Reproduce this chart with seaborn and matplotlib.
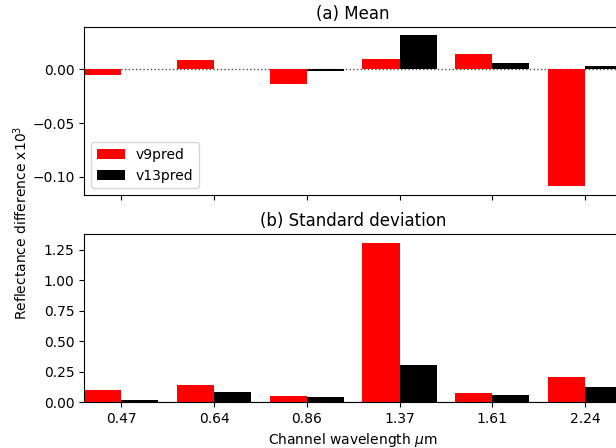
import matplotlib
matplotlib.use("Agg")
import matplotlib.pyplot as plt
import seaborn as sns
import pandas as pd

channels = ["0.47", "0.64", "0.86", "1.37", "1.61", "2.24"]
models = ["v9pred", "v13pred"]
mean_v9 = [-0.0055, 0.0083, -0.0135, 0.0092, 0.0144, -0.1089]
mean_v13 = [0.0005, 0.0005, -0.0012, 0.0322, 0.0055, 0.0034]
std_v9 = [0.096, 0.136, 0.046, 1.307, 0.071, 0.207]
std_v13 = [0.019, 0.079, 0.038, 0.300, 0.060, 0.126]
colors = {"v9pred": "#ff0000", "v13pred": "#000000"}

def long_df(a, b):
    return pd.DataFrame({
        "channel": channels * 2,
        "model": [models[0]] * len(channels) + [models[1]] * len(channels),
        "value": list(a) + list(b),
    })

df_mean = long_df(mean_v9, mean_v13)
df_std = long_df(std_v9, std_v13)

plt.rcParams["font.family"] = ["DejaVu Sans"]
fig = plt.figure(figsize=(6.16, 4.48), dpi=100)
W, H = 616.0, 448.0
left = 84.3 / W
width = (622.0 - 84.3) / W
ax1 = fig.add_axes([left, 1 - 195.0 / H, width, (195.0 - 27.3) / H])
ax2 = fig.add_axes([left, 1 - 402.0 / H, width, (402.0 - 234.3) / H])

for ax, df in ((ax1, df_mean), (ax2, df_std)):
    sns.barplot(data=df, x="channel", y="value", hue="model", order=channels,
                hue_order=models, palette=colors, saturation=1, width=0.8,
                linewidth=0, errorbar=None, ax=ax, zorder=2)
    ax.axhline(0, color="0.3", linestyle=":", linewidth=1.0, zorder=1)
    ax.set_xlim(-0.4, 5.4)
    ax.set_xlabel("")
    ax.set_ylabel("")

ax1.set_ylim(-0.1168, 0.039)
ax1.set_yticks([-0.10, -0.05, 0.00])
ax1.set_yticklabels(["\u22120.10", "\u22120.05", "0.00"])
ax1.tick_params(labelbottom=False)
ax1.set_title("(a) Mean", fontsize=12)
ax1.legend(loc="lower left", fontsize=10)

ax2.set_ylim(0, 1.3755)
ax2.set_yticks([0.0, 0.25, 0.5, 0.75, 1.0, 1.25])
ax2.set_yticklabels(["0.00", "0.25", "0.50", "0.75", "1.00", "1.25"])
ax2.set_title("(b) Standard deviation", fontsize=12)
ax2.get_legend().remove()
ax2.set_xlabel("Channel wavelength $\\mu$m", fontsize=10)

fig.text(21.0 / W, 1 - 223.0 / H, "Reflectance difference x10$^3$",
         rotation=90, ha="center", va="center", fontsize=10)

fig.savefig("out.png", dpi=100)
